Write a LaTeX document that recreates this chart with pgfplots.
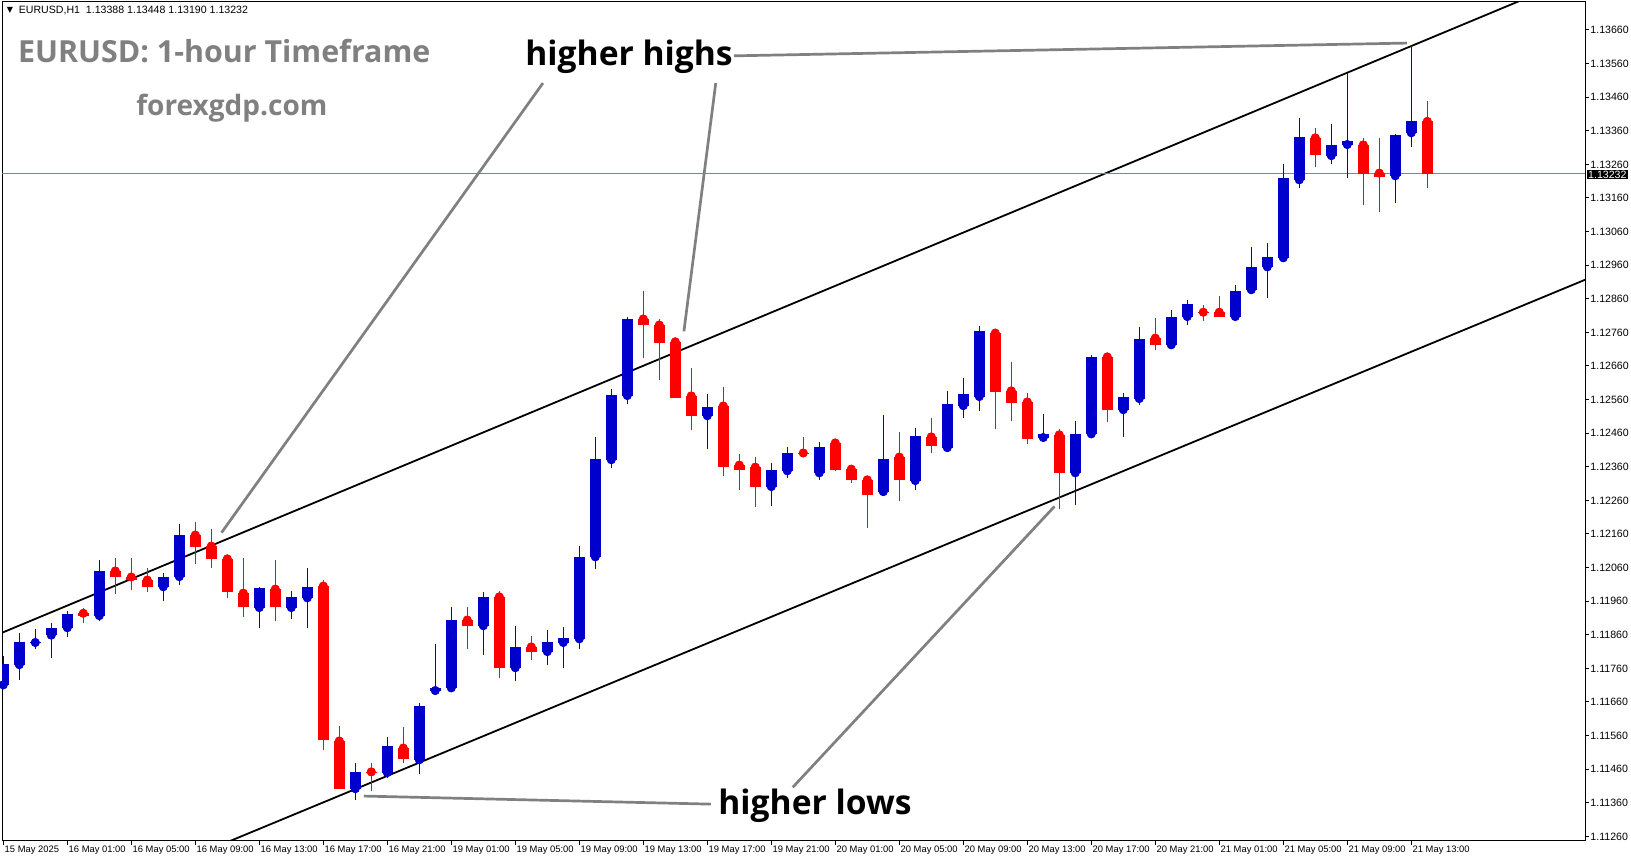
\documentclass[border=0pt]{standalone}
\usepackage{fontspec}
\setmainfont{Liberation Sans}
\newfontfamily\opensans{Open Sans}
\newfontfamily\dejavu{DejaVu Sans}
\usepackage{pgfplots}
\usepackage{pgfplotstable}
\pgfplotsset{compat=1.18}
\definecolor{bull}{RGB}{0,0,204}
\definecolor{bear}{RGB}{255,0,0}
\definecolor{annot}{RGB}{128,128,128}
\definecolor{pline}{RGB}{119,136,153}

\pgfplotstableread{
i o h l c
0 1.11711 1.11798 1.11705 1.11773
1 1.11771 1.11864 1.11725 1.11839
2 1.11837 1.11876 1.11819 1.11839
3 1.11859 1.11895 1.11792 1.11880
4 1.11881 1.11930 1.11854 1.11922
6 1.11917 1.12083 1.11902 1.12050
10 1.12003 1.12044 1.11962 1.12032
11 1.12033 1.12190 1.12009 1.12157
16 1.11941 1.12001 1.11881 1.11999
18 1.11941 1.11990 1.11908 1.11973
19 1.11970 1.12059 1.11881 1.12002
22 1.11402 1.11478 1.11368 1.11452
24 1.11450 1.11556 1.11434 1.11529
26 1.11488 1.11658 1.11446 1.11648
27 1.11694 1.11833 1.11692 1.11702
28 1.11702 1.11944 1.11694 1.11904
30 1.11887 1.11987 1.11800 1.11973
32 1.11762 1.11886 1.11723 1.11824
34 1.11810 1.11874 1.11771 1.11839
35 1.11837 1.11883 1.11762 1.11850
36 1.11848 1.12124 1.11819 1.12092
37 1.12092 1.12449 1.12057 1.12383
38 1.12381 1.12592 1.12357 1.12574
39 1.12572 1.12806 1.12548 1.12800
44 1.12512 1.12577 1.12414 1.12538
48 1.12301 1.12371 1.12244 1.12350
49 1.12348 1.12419 1.12328 1.12401
51 1.12342 1.12434 1.12322 1.12419
55 1.12286 1.12514 1.12284 1.12383
57 1.12319 1.12475 1.12292 1.12452
59 1.12417 1.12586 1.12415 1.12547
60 1.12542 1.12624 1.12506 1.12577
61 1.12569 1.12779 1.12527 1.12764
65 1.12447 1.12517 1.12438 1.12458
67 1.12342 1.12496 1.12247 1.12458
68 1.12458 1.12693 1.12456 1.12687
70 1.12530 1.12580 1.12450 1.12568
71 1.12563 1.12776 1.12545 1.12740
73 1.12723 1.12827 1.12717 1.12806
74 1.12807 1.12856 1.12783 1.12845
77 1.12807 1.12901 1.12804 1.12883
78 1.12887 1.13014 1.12875 1.12955
79 1.12955 1.13026 1.12863 1.12984
80 1.12982 1.13261 1.12970 1.13220
81 1.13214 1.13398 1.13191 1.13342
83 1.13286 1.13380 1.13262 1.13318
84 1.13319 1.13533 1.13220 1.13330
87 1.13226 1.13350 1.13146 1.13348
88 1.13354 1.13615 1.13313 1.13389
}\bulltable

\pgfplotstableread{
i o h l c
5 1.11924 1.11940 1.11896 1.11917
7 1.12050 1.12089 1.11982 1.12033
8 1.12032 1.12089 1.11994 1.12022
9 1.12023 1.12058 1.11988 1.12003
12 1.12157 1.12196 1.12072 1.12122
13 1.12124 1.12175 1.12060 1.12087
14 1.12086 1.12095 1.11970 1.11988
15 1.11984 1.12089 1.11914 1.11944
17 1.11996 1.12083 1.11902 1.11944
20 1.12005 1.12023 1.11518 1.11548
21 1.11544 1.11589 1.11400 1.11402
23 1.11452 1.11478 1.11396 1.11450
25 1.11523 1.11586 1.11479 1.11491
29 1.11904 1.11944 1.11818 1.11887
31 1.11973 1.11990 1.11731 1.11762
33 1.11824 1.11856 1.11785 1.11810
40 1.12800 1.12883 1.12685 1.12783
41 1.12782 1.12800 1.12619 1.12729
42 1.12732 1.12735 1.12566 1.12566
43 1.12571 1.12654 1.12470 1.12512
45 1.12541 1.12598 1.12334 1.12360
46 1.12365 1.12398 1.12292 1.12351
47 1.12359 1.12389 1.12241 1.12301
50 1.12401 1.12449 1.12390 1.12399
52 1.12431 1.12437 1.12348 1.12351
53 1.12353 1.12362 1.12313 1.12322
54 1.12321 1.12324 1.12179 1.12277
56 1.12389 1.12464 1.12259 1.12322
58 1.12449 1.12505 1.12402 1.12423
62 1.12758 1.12761 1.12473 1.12584
63 1.12586 1.12672 1.12497 1.12551
64 1.12553 1.12580 1.12429 1.12444
66 1.12455 1.12473 1.12235 1.12342
69 1.12687 1.12699 1.12494 1.12530
72 1.12743 1.12803 1.12708 1.12723
75 1.12820 1.12842 1.12795 1.12818
76 1.12820 1.12868 1.12805 1.12807
82 1.13339 1.13368 1.13253 1.13289
85 1.13318 1.13339 1.13140 1.13231
86 1.13234 1.13339 1.13119 1.13223
89 1.13388 1.13448 1.13190 1.13232
}\beartable

\begin{document}
\begin{tikzpicture}
\begin{axis}[
  at={(1pt,10pt)}, anchor=south west,
  scale only axis, width=791.5pt, height=419.5pt,
  xmin=-0.081, xmax=98.86, ymin=1.112463, ymax=1.137433,
  axis line style={line width=0.5pt, black},
  tick align=outside, major tick length=2pt,
  tick style={black, line width=0.5pt},
  xtick pos=left, ytick pos=right, yticklabel pos=right,
  xtick={0,4,...,88},
  xticklabels={15 May 2025,16 May 01:00,16 May 05:00,16 May 09:00,16 May 13:00,16 May 17:00,16 May 21:00,19 May 01:00,19 May 05:00,19 May 09:00,19 May 13:00,19 May 17:00,19 May 21:00,20 May 01:00,20 May 05:00,20 May 09:00,20 May 13:00,20 May 17:00,20 May 21:00,21 May 01:00,21 May 05:00,21 May 09:00,21 May 13:00},
  ytick={1.1126,1.1136,1.1146,1.1156,1.1166,1.1176,1.1186,1.1196,1.1206,1.1216,1.1226,1.1236,1.1246,1.1256,1.1266,1.1276,1.1286,1.1296,1.1306,1.1316,1.1326,1.1336,1.1346,1.1356,1.1366},
  scaled y ticks=false,
  /pgf/number format/assume math mode=true,
  x tick label style={font=\fontsize{4.7}{5}\selectfont, anchor=north west, inner sep=0.5pt},
  y tick label style={font=\fontsize{5.3}{6}\selectfont, anchor=west, inner sep=0.5pt},
  yticklabel style={/pgf/number format/.cd, fixed, fixed zerofill, precision=5},
  clip=true,
]
% channel lines
\addplot[black, line width=0.9pt, no marks, forget plot] coordinates {(-2,1.11828) (100,1.13850)};
\addplot[black, line width=0.9pt, no marks, forget plot] coordinates {(10,1.11164) (100,1.12939)};
% current price line
\addplot[pline, line width=0.5pt, no marks, forget plot] coordinates {(-1,1.13232) (100,1.13232)};
% wicks
\addplot[bull, only marks, mark=none, forget plot, error bars/.cd, y dir=both, y explicit, error mark=none, error bar style={line width=0.5pt, draw=bull, line cap=butt}]
  table[x=i, y=o, y error plus expr=\thisrow{h}-\thisrow{o}, y error minus expr=\thisrow{o}-\thisrow{l}] {\bulltable};
\addplot[bear, only marks, mark=none, forget plot, error bars/.cd, y dir=both, y explicit, error mark=none, error bar style={line width=0.5pt, draw=bear, line cap=butt}]
  table[x=i, y=o, y error plus expr=\thisrow{h}-\thisrow{o}, y error minus expr=\thisrow{o}-\thisrow{l}] {\beartable};
% bodies
\addplot[bull, only marks, mark=none, forget plot, error bars/.cd, y dir=plus, y explicit, error mark=none, error bar style={line width=5.5pt, draw=bull, line cap=butt}]
  table[x=i, y=o, y error plus expr=\thisrow{c}-\thisrow{o}] {\bulltable};
\addplot[bear, only marks, mark=none, forget plot, error bars/.cd, y dir=minus, y explicit, error mark=none, error bar style={line width=5.5pt, draw=bear, line cap=butt}]
  table[x=i, y=o, y error minus expr=\thisrow{o}-\thisrow{c}] {\beartable};
% annotation pointers
\addplot[annot, line width=1.35pt, no marks, forget plot] coordinates {(33.73,1.13502) (13.64,1.12164)};
\addplot[annot, line width=1.35pt, no marks, forget plot] coordinates {(44.53,1.13502) (42.54,1.12763)};
\addplot[annot, line width=1.35pt, no marks, forget plot] coordinates {(45.67,1.13583) (87.73,1.13621)};
\addplot[annot, line width=1.35pt, no marks, forget plot] coordinates {(22.54,1.11380) (44.23,1.11356)};
\addplot[annot, line width=1.35pt, no marks, forget plot] coordinates {(49.34,1.11406) (65.70,1.12242)};
\end{axis}
% texts
\node[anchor=center, inner sep=0, font=\dejavu\fontsize{4}{4}\selectfont] at (5pt,425.3pt) {▼};
\node[anchor=west, inner sep=0, font=\fontsize{5.3}{6}\selectfont] at (9.2pt,425.3pt) {EURUSD,H1\ \ 1.13388 1.13448 1.13190 1.13232};
\node[anchor=base west, inner sep=0, text=annot, font=\opensans\bfseries\fontsize{15.2}{16}\selectfont] at (8.85pt,399pt) {EURUSD: 1-hour Timeframe};
\node[anchor=base west, inner sep=0, text=annot, font=\opensans\bfseries\fontsize{14}{15}\selectfont] at (68pt,372.5pt) {forexgdp.com};
\node[anchor=base west, inner sep=0, font=\opensans\bfseries\fontsize{16.8}{18}\selectfont] at (262.5pt,397.7pt) {higher highs};
\node[anchor=base west, inner sep=0, font=\opensans\bfseries\fontsize{16.8}{18}\selectfont] at (359pt,23.2pt) {higher lows};
\node[anchor=west, fill=black, text=white, inner sep=0.6pt, font=\fontsize{5.3}{6}\selectfont] at (793.3pt,343.25pt) {1.13232};
\pgfresetboundingbox
\path[use as bounding box] (0,0) rectangle (815.5pt,430.5pt);
\end{tikzpicture}
\end{document}
